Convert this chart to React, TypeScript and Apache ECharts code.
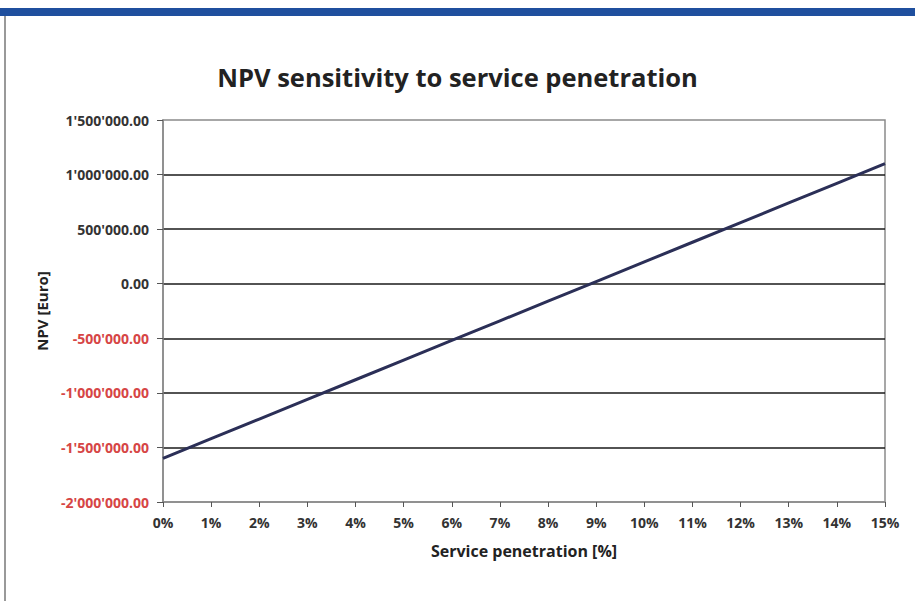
import React, { useEffect, useRef } from "react";
import * as echarts from "echarts";

const penetration = [0, 1, 2, 3, 4, 5, 6, 7, 8, 9, 10, 11, 12, 13, 14, 15];
const npv = [
  -1600000, -1420000, -1240000, -1060000, -880000, -700000, -520000, -340000,
  -160000, 20000, 200000, 380000, 560000, 740000, 920000, 1100000,
];
const titleText = "NPV sensitivity to service penetration";
const xName = "Service penetration [%]";
const yName = "NPV [Euro]";

function fmt(v: number): string {
  const neg = v < 0;
  const s = Math.abs(Math.round(v)).toString().replace(/\B(?=(\d{3})+(?!\d))/g, "'");
  return (neg ? "-" : "") + s + ".00";
}

export default function App() {
  const ref = useRef<HTMLDivElement>(null);
  useEffect(() => {
    if (!ref.current) return;
    const chart = echarts.init(ref.current, null, { renderer: "svg" });
    const font = "'Open Sans', 'Noto Sans', sans-serif";
    chart.setOption({
      animation: false,
      backgroundColor: "#ffffff",
      textStyle: { fontFamily: font },
      title: {
        text: titleText,
        left: "center",
        top: 59,
        textStyle: { fontFamily: font, fontSize: 25.5, fontWeight: "bold", color: "#222222" },
      },
      graphic: [
        { type: "rect", shape: { x: 0, y: 8, width: 915, height: 8 }, style: { fill: "#1f4f9e" }, z: 10 },
        { type: "line", shape: { x1: 5, y1: 16, x2: 5, y2: 601 }, style: { stroke: "#777777", lineWidth: 1.5 }, z: 10 },
      ],
      grid: {
        left: 163,
        right: 30,
        top: 120,
        bottom: 99,
        show: true,
        borderColor: "#8a8a8a",
        borderWidth: 1.5,
        backgroundColor: "transparent",
      },
      xAxis: {
        type: "value",
        min: 0,
        max: 15,
        interval: 1,
        name: xName,
        nameLocation: "middle",
        nameGap: 41,
        nameTextStyle: { fontFamily: font, fontSize: 16, fontWeight: "bold", color: "#222222" },
        axisLine: { show: true, onZero: false, lineStyle: { color: "#8a8a8a", width: 1.5 } },
        axisTick: { show: true, length: 5, lineStyle: { color: "#555555" } },
        axisLabel: {
          formatter: (v: number) => v + "%",
          fontFamily: font,
          fontSize: 14,
          fontWeight: "bold",
          color: "#333333",
          margin: 13,
        },
        splitLine: { show: false },
      },
      yAxis: {
        type: "value",
        min: -2000000,
        max: 1500000,
        interval: 500000,
        name: yName,
        nameLocation: "middle",
        nameGap: 114,
        nameTextStyle: { fontFamily: font, fontSize: 15, fontWeight: "bold", color: "#222222" },
        axisLine: { show: true, onZero: false, lineStyle: { color: "#8a8a8a", width: 1.5 } },
        axisTick: { show: true, length: 6, lineStyle: { color: "#555555" } },
        axisLabel: {
          formatter: (v: number) => fmt(v),
          fontFamily: font,
          fontSize: 14,
          fontWeight: "bold",
          color: (v: any) => (Number(v) < 0 ? "#d64545" : "#333333"),
          margin: 14,
        },
        splitLine: {
          show: true,
          showMinLine: false,
          showMaxLine: false,
          lineStyle: { color: "#1a1a1a", width: 1.5 },
        },
      },
      series: [
        {
          type: "line",
          data: penetration.map((p, i) => [p, npv[i]]),
          showSymbol: false,
          lineStyle: { color: "#2b2f57", width: 3 },
          z: 5,
        },
      ],
    });
    return () => chart.dispose();
  }, []);
  return (
    <div
      ref={ref}
      style={{ position: "fixed", left: 0, top: 0, width: 915, height: 601 }}
    />
  );
}
